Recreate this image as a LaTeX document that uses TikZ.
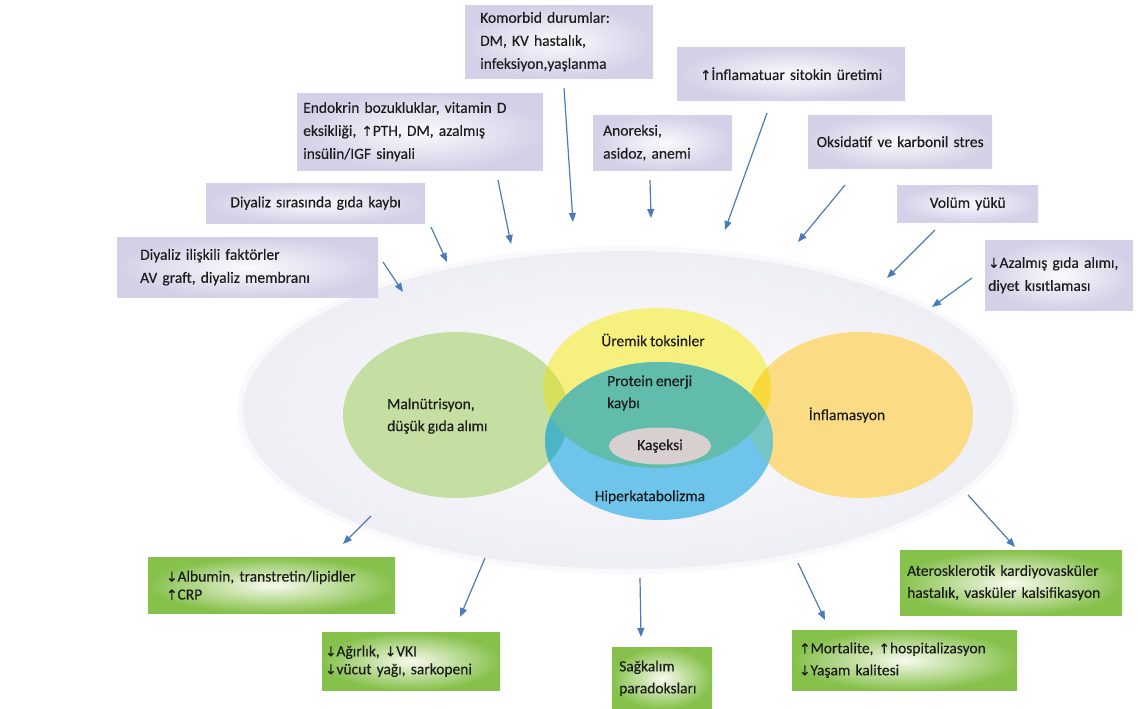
\documentclass[tikz,border=0pt]{standalone}
\usepackage{fontspec}
\setmainfont{Carlito}[FakeBold=0.25,WordSpace=0.85]
\newfontfamily\arrfont{DejaVu Sans}[FakeBold=0.6]
\newcommand\upa{{\arrfont\fontsize{13.5}{13.5}\selectfont ↑}}
\newcommand\dna{{\arrfont\fontsize{13.5}{13.5}\selectfont ↓}}
\usetikzlibrary{arrows.meta,shapes.geometric}
\definecolor{txt}{RGB}{28,28,28}
\definecolor{lav}{RGB}{212,208,231}
\definecolor{lavin}{RGB}{250,250,253}
\definecolor{gg}{RGB}{134,193,76}
\definecolor{gw}{RGB}{248,250,238}
\definecolor{arrc}{RGB}{74,124,186}
\definecolor{bgout}{RGB}{249,249,252}
\definecolor{bgin}{RGB}{252,252,254}
\definecolor{bgedge}{RGB}{238,238,245}
\definecolor{cgreen}{RGB}{197,222,162}
\definecolor{corange}{RGB}{251,220,132}
\definecolor{cyellow}{RGB}{246,241,126}
\definecolor{cblue}{RGB}{110,196,234}
\definecolor{cgy}{RGB}{214,224,92}
\definecolor{coy}{RGB}{248,216,58}
\definecolor{cgb}{RGB}{76,181,196}
\definecolor{cob}{RGB}{118,196,196}
\definecolor{cteal}{RGB}{98,188,172}
\definecolor{cgray}{RGB}{216,207,207}
\tikzset{
  topbox/.style={rectangle, inner color=lavin, outer color=lav, anchor=north west,
    inner ysep=0pt, text=txt, font=\fontsize{15.5}{23}\selectfont},
  grnbox/.style={rectangle, inner color=gw, outer color=gg, anchor=north west,
    inner ysep=0pt, text=txt, font=\fontsize{15.5}{22}\selectfont},
  lbl/.style={text=txt, inner sep=0pt, font=\fontsize{15.5}{22}\selectfont},
  arr/.style={draw=arrc, line width=1.2pt, -{Triangle[length=9pt,width=7pt]}},
}
\begin{document}
\begin{tikzpicture}[x=1pt,y=-1pt]
\useasboundingbox (0,0) rectangle (1138,709);
\fill[white] (0,0) rectangle (1138,709);
% background glow
\fill[bgout] (628,410) ellipse [x radius=391pt, y radius=164pt];
\shade[inner color=bgin, outer color=bgedge] (628,410) ellipse [x radius=385pt, y radius=159pt];
% circles
\fill[cgreen] (456,415) ellipse [x radius=113pt, y radius=83pt];
\fill[corange] (860,415) ellipse [x radius=113pt, y radius=83pt];
\fill[cyellow] (657,388) ellipse [x radius=114pt, y radius=80pt];
\fill[cblue] (659,441) ellipse [x radius=114pt, y radius=79pt];
\begin{scope}
  \clip (456,415) ellipse [x radius=113pt, y radius=83pt];
  \fill[cgy] (657,388) ellipse [x radius=114pt, y radius=80pt];
  \fill[cgb] (659,441) ellipse [x radius=114pt, y radius=79pt];
\end{scope}
\begin{scope}
  \clip (860,415) ellipse [x radius=113pt, y radius=83pt];
  \fill[coy] (657,388) ellipse [x radius=114pt, y radius=80pt];
  \fill[cob] (659,441) ellipse [x radius=114pt, y radius=79pt];
\end{scope}
\begin{scope}
  \clip (657,388) ellipse [x radius=114pt, y radius=80pt];
  \fill[cteal] (659,441) ellipse [x radius=114pt, y radius=79pt];
\end{scope}
\node[ellipse, fill=cgray, minimum width=102pt, minimum height=37pt, inner sep=0pt, text=txt, font=\fontsize{15.5}{22}\selectfont] (kas) at (660,446) {Kaşeksi};
% circle labels
\node[lbl, anchor=west, align=left] (mal) at (387,416) {Malnütrisyon,\\düşük gıda alımı};
\node[lbl] (ure) at (653,340) {Üremik toksinler};
\node[lbl, anchor=west, align=left] (peb) at (607,393) {Protein enerji\\kaybı};
\node[lbl] (hip) at (650,497) {Hiperkatabolizma};
\node[lbl] (inf) at (847,415) {İnflamasyon};
% top boxes
\node[topbox, minimum width=188pt, minimum height=73pt, inner xsep=15pt, text width=158pt, align=left] (kom) at (465,5) {Komorbid durumlar:\\DM, KV hastalık,\\infeksiyon,yaşlanma};
\node[topbox, minimum width=246pt, minimum height=77pt, inner xsep=6pt, text width=234pt, align=left] (endo) at (297,93) {Endokrin bozukluklar, vitamin D\\eksikliği, \upa PTH, DM, azalmış\\insülin/IGF sinyali};
\node[topbox, minimum width=139pt, minimum height=55pt, inner xsep=10pt, text width=119pt, align=left] (ano) at (593,115) {Anoreksi,\\asidoz, anemi};
\node[topbox, minimum width=228pt, minimum height=53pt, inner xsep=4pt, text width=220pt, align=center] (infl) at (677,47) {\upa İnflamatuar sitokin üretimi};
\node[topbox, minimum width=184pt, minimum height=53pt, inner xsep=4pt, text width=176pt, align=center] (oks) at (808,115) {Oksidatif ve karbonil stres};
\node[topbox, minimum width=141pt, minimum height=37pt, inner xsep=4pt, text width=133pt, align=center] (vol) at (897,185) {Volüm yükü};
\node[topbox, minimum width=148pt, minimum height=70pt, inner xsep=3pt, text width=142pt, align=left] (aza) at (985,240) {\dna Azalmış gıda alımı,\\diyet kısıtlaması};
\node[topbox, minimum width=219pt, minimum height=40pt, inner xsep=4pt, text width=211pt, align=center] (dsir) at (206,183) {Diyaliz sırasında gıda kaybı};
\node[topbox, minimum width=261pt, minimum height=60pt, inner xsep=23pt, text width=215pt, align=left] (dilis) at (117,237) {Diyaliz ilişkili faktörler\\AV graft, diyaliz membranı};
% bottom boxes
\node[grnbox, font=\fontsize{15.5}{18}\selectfont, minimum width=247pt, minimum height=56pt, inner xsep=18pt, text width=211pt, align=left] (alb) at (148,557) {\dna Albumin, transtretin/lipidler\\\upa CRP};
\node[grnbox, font=\fontsize{15.5}{18}\selectfont, minimum width=178pt, minimum height=58pt, inner xsep=3pt, text width=172pt, align=left] (agr) at (322,632) {\dna Ağırlık, \dna VKI\\\dna vücut yağı, sarkopeni};
\node[grnbox, minimum width=100pt, minimum height=62pt, inner xsep=7pt, text width=86pt, align=left] (sag) at (612,647) {Sağkalım\\paradoksları};
\node[grnbox, minimum width=225pt, minimum height=60pt, inner xsep=7pt, text width=211pt, align=left] (mor) at (792,630) {\upa Mortalite, \upa hospitalizasyon\\\dna Yaşam kalitesi};
\node[grnbox, minimum width=222pt, minimum height=65pt, inner xsep=7pt, text width=208pt, align=left] (ate) at (900,550) {Aterosklerotik kardiyovasküler\\hastalık, vasküler kalsifikasyon};
% arrow end points
\coordinate (a1s) at (383,262); \coordinate (a1e) at (403,292);
\coordinate (a2s) at (431,227); \coordinate (a2e) at (447,262);
\coordinate (a3s) at (498,180); \coordinate (a3e) at (511,244);
\coordinate (a4s) at (564,88);  \coordinate (a4e) at (573,222);
\coordinate (a5s) at (650,180); \coordinate (a5e) at (651,218);
\coordinate (a6s) at (767,113); \coordinate (a6e) at (725,230);
\coordinate (a7s) at (845,185); \coordinate (a7e) at (798,242);
\coordinate (a8s) at (935,230); \coordinate (a8e) at (887,278);
\coordinate (a9s) at (972,278); \coordinate (a9e) at (932,307);
\coordinate (b1s) at (371,516); \coordinate (b1e) at (343,544);
\coordinate (b2s) at (485,558); \coordinate (b2e) at (460,617);
\coordinate (b3s) at (640,578); \coordinate (b3e) at (641,637);
\coordinate (b4s) at (798,563); \coordinate (b4e) at (825,620);
\coordinate (b5s) at (968,495); \coordinate (b5e) at (1015,547);
\foreach \p in {a1,a2,a3,a4,a5,a6,a7,a8,a9,b1,b2,b3,b4,b5}
  \draw[arr] (\p s) -- (\p e);
\end{tikzpicture}
\end{document}
